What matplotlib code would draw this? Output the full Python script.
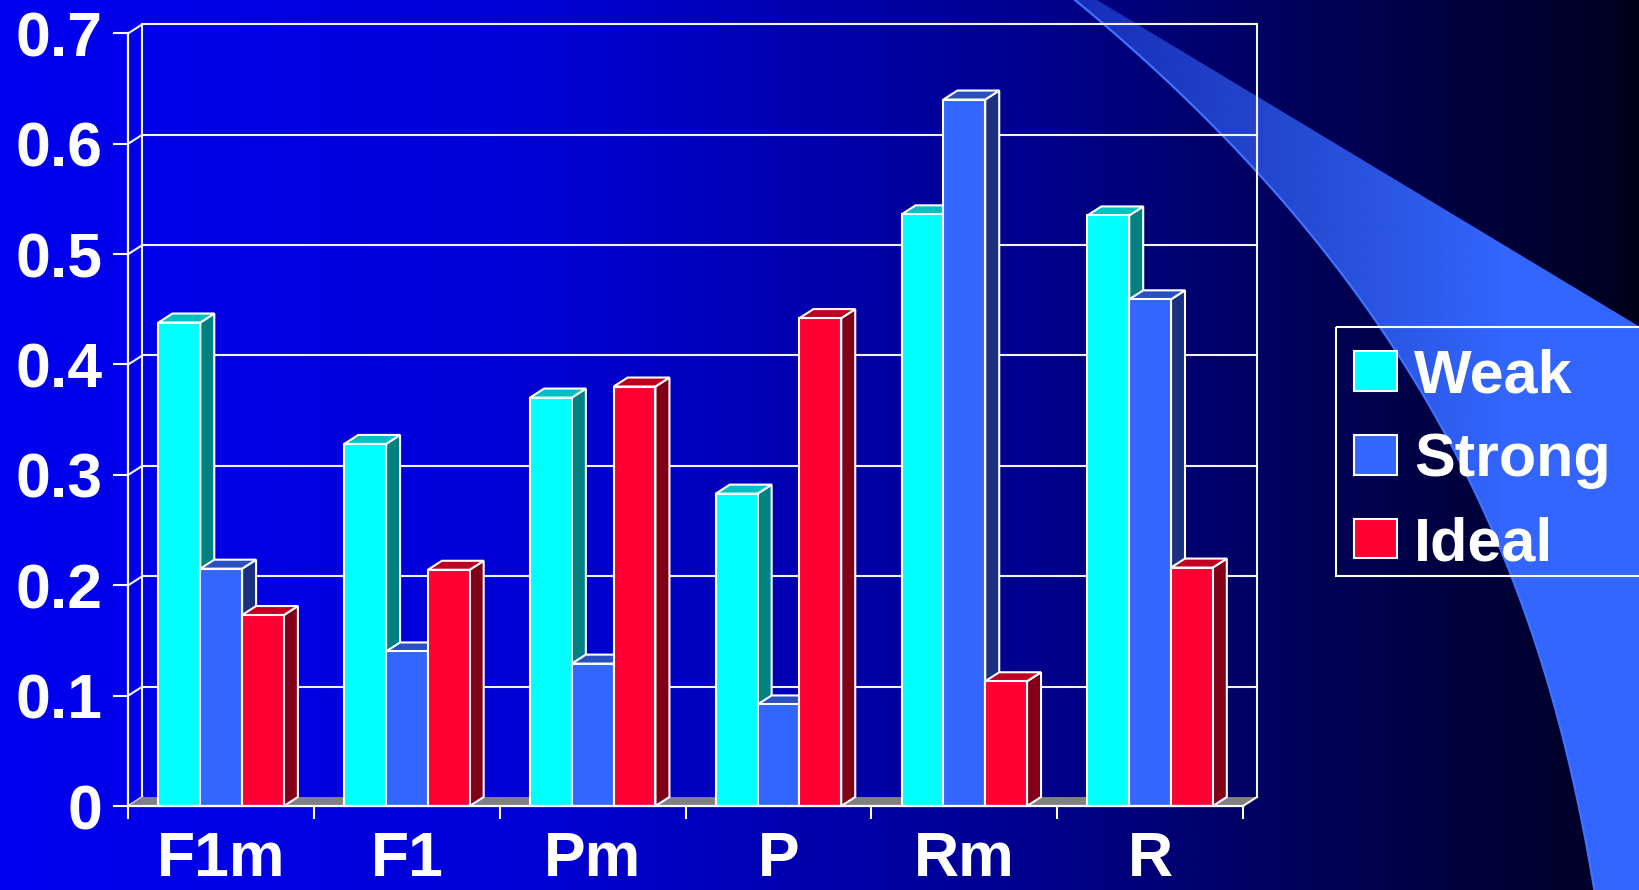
import numpy as np
import matplotlib.pyplot as plt
from matplotlib.patches import Polygon, Patch, Rectangle
from matplotlib.transforms import blended_transform_factory

plt.rcParams['font.family'] = ['Liberation Sans', 'DejaVu Sans']
plt.rcParams['font.weight'] = 'bold'

# --> data
categories = ['F1m', 'F1', 'Pm', 'P', 'Rm', 'R']
series = ['Weak', 'Strong', 'Ideal']
weak = [0.438, 0.328, 0.370, 0.283, 0.536, 0.535]
strong = [0.215, 0.140, 0.129, 0.092, 0.640, 0.459]
ideal = [0.173, 0.214, 0.380, 0.442, 0.113, 0.216]
y_ticks = [0, 0.1, 0.2, 0.3, 0.4, 0.5, 0.6, 0.7]
y_labels = ['0', '0.1', '0.2', '0.3', '0.4', '0.5', '0.6', '0.7']

# front, side, top colours per series
colors = {
    'Weak': ('#00FFFF', '#008080', '#00C0C0'),
    'Strong': ('#3366FF', '#1C3080', '#2A4FC0'),
    'Ideal': ('#FF0033', '#800018', '#C00020'),
}

W, H = 1640, 890
fig = plt.figure(figsize=(W / 100, H / 100), dpi=100)

# --> background: blue to black gradient plus the swoosh
bg = fig.add_axes([0, 0, 1, 1])
bg.set_xlim(0, W)
bg.set_ylim(H, 0)
bg.axis('off')
xs = np.arange(W)
blue = np.interp(xs, [0, 500, 640, 1040, 1300, 1600, 1640], [240, 215, 200, 140, 90, 40, 22])
grad = np.zeros((2, W, 3))
grad[..., 2] = blue / 255
bg.imshow(grad, extent=[0, W, H, 0], aspect='auto', interpolation='bilinear', zorder=0)

edge_y = np.array([0, 67, 137, 187, 233, 283, 333, 393, 450, 520, 573, 673, 757, 823, 890])
edge_x = np.array([1074, 1155, 1224, 1270, 1308, 1346, 1384, 1423, 1455, 1490, 1513, 1540, 1567, 1583, 1595])
fit = np.polyfit(edge_y, edge_x, 3)
cy = np.linspace(0, H, 200)
cx = np.polyval(fit, cy)
verts = [(1097, 0), (W, 327), (W, H)] + list(zip(cx[::-1], cy[::-1]))
swoosh = Polygon(verts, closed=True, facecolor='none', edgecolor='none', transform=bg.transData)
bg.add_patch(swoosh)
sw = np.zeros((2, W, 4))
sw[..., 0] = 51 / 255
sw[..., 1] = 102 / 255
sw[..., 2] = 1.0
sw[..., 3] = np.clip(0.45 + (xs - 1080) / 420 * 0.55, 0.45, 1.0)
im = bg.imshow(sw, extent=[0, W, H, 0], aspect='auto', interpolation='bilinear', zorder=1)
im.set_clip_path(swoosh)
bg.plot(cx, cy, color='#3F72FF', lw=1.6, zorder=2)

# legend box runs off the right edge of the slide
bg.add_patch(Rectangle((1336, 327), 320, 249, fill=False, edgecolor='white', lw=1.5, zorder=3))

# --> chart axes (front plane of the 3D box)
x0f, x1f = 128.3, 1243.0
y0f, y1f = 806.0, 33.3
ax = fig.add_axes([x0f / W, 1 - y0f / H, (x1f - x0f) / W, (y0f - y1f) / H])
ax.set_xlim(0, len(categories))
ax.set_ylim(0, 0.7)
ax.patch.set_alpha(0)
n = len(categories)
dx = 14 * n / (x1f - x0f)
dy = 9 * 0.7 / (y0f - y1f)

for side in ['top', 'right']:
    ax.spines[side].set_visible(False)
for side in ['left', 'bottom']:
    ax.spines[side].set_color('white')
    ax.spines[side].set_linewidth(1.6)
    ax.spines[side].set_zorder(50)

line_kw = dict(color='#F2F2F2', lw=1.5, clip_on=False, solid_capstyle='projecting')
for v in y_ticks:
    ax.plot([0, dx], [v, v + dy], zorder=1, **line_kw)
    if v > 0:
        ax.plot([dx, n + dx], [v + dy, v + dy], zorder=1, **line_kw)
ax.plot([dx, dx], [dy, 0.7 + dy], zorder=1, **line_kw)
ax.plot([n + dx, n + dx], [dy, 0.7 + dy], zorder=1, **line_kw)

# floor
ax.add_patch(Polygon([(0, 0), (n, 0), (n + dx, dy), (dx, dy)], closed=True,
                     facecolor='#808080', edgecolor='none', zorder=1.5, clip_on=False))
ax.plot([n, n + dx], [0, dy], zorder=1.6, **line_kw)

ax.set_yticks(y_ticks)
ax.set_yticklabels(y_labels)
ax.tick_params(axis='y', colors='white', length=10.8, width=1.5, pad=8, labelsize=45)
ax.set_xticks(range(n + 1))
ax.tick_params(axis='x', colors='white', length=9.4, width=1.5, labelbottom=False)

lab_tr = blended_transform_factory(ax.transData, fig.transFigure)
for i, cat in enumerate(categories):
    ax.text(i + 0.5, 1 / H, cat, transform=lab_tr, ha='center', va='bottom',
            fontsize=45, color='white', fontweight='bold')

# --> 3D bars
width = 0.225
handles = []
for s, (name, vals) in enumerate(zip(series, [weak, strong, ideal])):
    front, side_c, top_c = colors[name]
    x = np.arange(n) + 0.5 + (s - 1) * width
    bars = ax.bar(x, vals, width, color=front, edgecolor='white', linewidth=1.5, clip_on=False)
    for i, (b, v) in enumerate(zip(bars, vals)):
        z = 3 + i * 3 + s
        b.set_zorder(z + 0.5)
        xl, xr = b.get_x(), b.get_x() + b.get_width()
        ax.add_patch(Polygon([(xr, 0), (xr + dx, dy), (xr + dx, v + dy), (xr, v)], closed=True,
                             facecolor=side_c, edgecolor='white', lw=1.5, zorder=z, clip_on=False))
        ax.add_patch(Polygon([(xl, v), (xl + dx, v + dy), (xr + dx, v + dy), (xr, v)], closed=True,
                             facecolor=top_c, edgecolor='white', lw=1.5, zorder=z, clip_on=False))
    handles.append(Patch(facecolor=front, edgecolor='white', linewidth=1.5, label=name))

leg = fig.legend(handles=handles, loc='upper left',
                 bbox_to_anchor=(1336 / W, 1 - 330 / H),
                 frameon=False, borderaxespad=0,
                 prop={'weight': 'bold', 'size': 44}, labelcolor='white',
                 handlelength=0.7, handleheight=0.62, handletextpad=0.28,
                 labelspacing=0.44, borderpad=0.3)

fig.savefig('out.png', dpi=100)
